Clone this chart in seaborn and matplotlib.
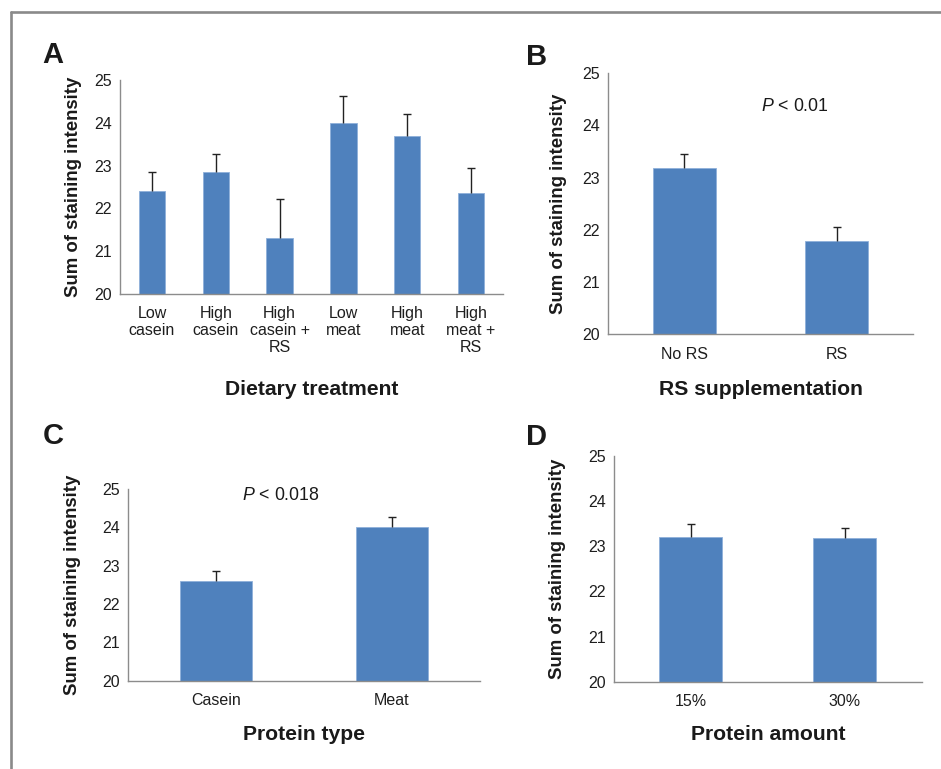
import matplotlib
matplotlib.use("Agg")
import matplotlib.pyplot as plt
import numpy as np
import pandas as pd
import seaborn as sns
from matplotlib.lines import Line2D

# --- data ---
diet_labels = ["Low\ncasein", "High\ncasein", "High\ncasein +\nRS", "Low\nmeat", "High\nmeat", "High\nmeat +\nRS"]
diet_means = [22.40, 22.84, 21.32, 24.00, 23.70, 22.35]
diet_err = [0.44, 0.43, 0.91, 0.63, 0.51, 0.59]

rs_labels = ["No RS", "RS"]
rs_means = [23.19, 21.79]
rs_err = [0.26, 0.26]

ptype_labels = ["Casein", "Meat"]
ptype_means = [22.60, 24.00]
ptype_err = [0.25, 0.26]

pamount_labels = ["15%", "30%"]
pamount_means = [23.20, 23.19]
pamount_err = [0.30, 0.21]

y_ticks = [20, 21, 22, 23, 24, 25]

BAR = "#4F81BD"
SPINE = "#8c8c8c"
W, H = 941, 769

sns.set_style("white")
plt.rcParams["font.family"] = ["Liberation Sans", "DejaVu Sans"]
plt.rcParams["mathtext.fontset"] = "custom"
plt.rcParams["mathtext.it"] = "Liberation Sans:italic"
plt.rcParams["mathtext.rm"] = "Liberation Sans"

fig = plt.figure(figsize=(W / 100, H / 100), dpi=100)


def make_axes(left, right, top, bottom):
    # pixel box -> figure fraction
    return fig.add_axes([left / W, 1 - bottom / H, (right - left) / W, (bottom - top) / H])


def panel(box, labels, means, err, xlabel, letter, letter_xy, ylab_x, xlab_y, ptext=None):
    left, right, top, bottom = box
    ax = make_axes(left, right, top, bottom)
    df = pd.DataFrame({"cat": labels, "val": means})
    sns.barplot(data=df, x="cat", y="val", color=BAR, width=0.41,
                edgecolor="#8fb0da", linewidth=0.6, saturation=1, errorbar=None, ax=ax)
    pos = np.arange(len(labels))
    _, caps, _ = ax.errorbar(pos, means, yerr=[np.zeros(len(err)), err], fmt="none",
                             ecolor="#222222", elinewidth=1.0, capsize=3, capthick=1.0, zorder=5)
    caps[0].set_visible(False)  # only the upper half of the error bar is shown
    n = len(labels)
    ax.set_xlim(-0.5, n - 0.5)
    ax.set_ylim(20, 25)
    ax.set_yticks(y_ticks)
    ax.set_xticks(pos)
    ax.set_xticklabels(labels, fontsize=11.5, linespacing=1.15, color="#1e1e1e")
    ax.set_xticks(np.arange(n + 1) - 0.5, minor=True)
    ax.tick_params(axis="x", which="major", length=0, pad=9)
    ax.tick_params(axis="x", which="minor", length=5, width=1, color=SPINE, direction="out")
    ax.tick_params(axis="y", length=4, width=1, color=SPINE, direction="out", pad=2,
                   labelsize=11.5, labelcolor="#1e1e1e")
    for s in ["top", "right"]:
        ax.spines[s].set_visible(False)
    for s in ["left", "bottom"]:
        ax.spines[s].set_color(SPINE)
        ax.spines[s].set_linewidth(1)
    ax.set_ylabel("Sum of staining intensity", fontsize=13.4, fontweight="bold", color="#1a1a1a")
    ax.set_xlabel(xlabel, fontsize=15.2, fontweight="bold", color="#1a1a1a")
    # label anchors in axes fraction from pixel positions
    ax.yaxis.set_label_coords((ylab_x - left) / (right - left), 0.5)
    ax.xaxis.set_label_coords(0.5, (bottom - xlab_y) / (bottom - top))
    fig.text(letter_xy[0] / W, 1 - letter_xy[1] / H, letter, fontsize=21, fontweight="bold",
             ha="center", va="center", color="#1a1a1a")
    if ptext is not None:
        px, py, txt = ptext
        ax.text(px, py, txt, fontsize=12.8, ha="center", va="center", color="#1a1a1a")
    return ax


panel((120, 503, 80, 294), diet_labels, diet_means, diet_err, "Dietary treatment",
      "A", (53, 55), 82, 380)
panel((608, 913, 73.3, 334.3), rs_labels, rs_means, rs_err, "RS supplementation",
      "B", (537, 57), 567, 380, (0.726, 24.37, "$P$ < 0.01"))
panel((128, 480, 489, 680.7), ptype_labels, ptype_means, ptype_err, "Protein type",
      "C", (53, 436), 81, 725, (0.369, 24.82, "$P$ < 0.018"))
panel((614, 921.7, 456, 681.7), pamount_labels, pamount_means, pamount_err, "Protein amount",
      "D", (537, 437), 566, 725)

# grey frame on top and left, as in the source figure
fig.add_artist(Line2D([11 / W, 1], [1 - 12 / H, 1 - 12 / H], color="#8a8a8a", lw=1.9,
                      transform=fig.transFigure))
fig.add_artist(Line2D([11 / W, 11 / W], [0, 1 - 12 / H], color="#8a8a8a", lw=1.9,
                      transform=fig.transFigure))

fig.savefig("out.png", dpi=100)
